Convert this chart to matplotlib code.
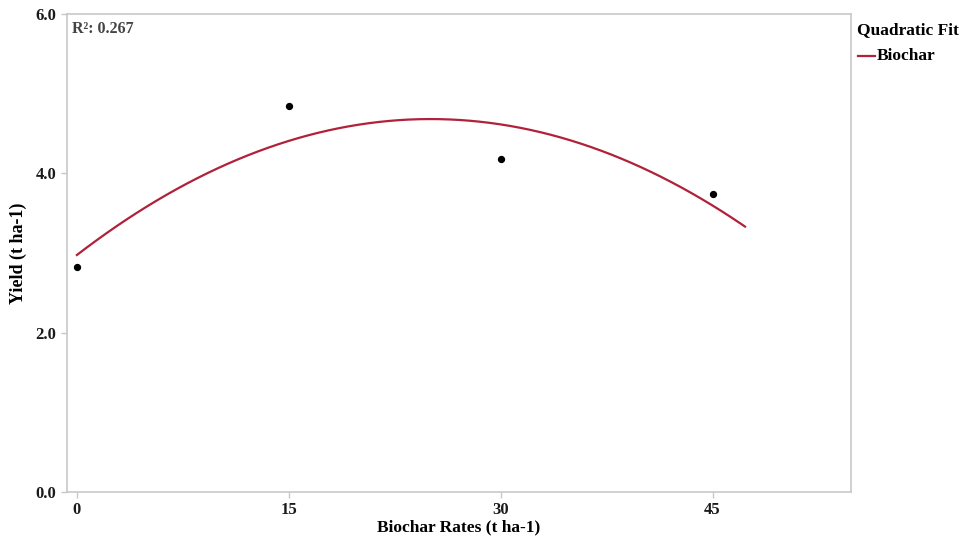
import matplotlib.pyplot as plt
import numpy as np

plt.rcParams['font.family'] = ['Liberation Serif', 'DejaVu Serif']

rates = [0, 15, 30, 45]
yields = [2.83, 4.84, 4.18, 3.74]
xticks = [0, 15, 30, 45]
yticks = [0.0, 2.0, 4.0, 6.0]
r2_label = 'R²: 0.267'

grey = '#c8c8c8'
red = '#b0213a'

fig = plt.figure(figsize=(9.67, 5.36), dpi=100)
ax = fig.add_axes([0.0693, 0.0821, 0.8107, 0.8919])

# quadratic fit over the rate range
coef = np.polyfit(rates, yields, 2)
xs = np.linspace(0, 47.3, 200)
ax.plot(xs, np.polyval(coef, xs), color=red, lw=1.6, zorder=2)
ax.scatter(rates, yields, s=18, color='black', zorder=3)

ax.set_xlim(-0.7, 54.8)
ax.set_ylim(0, 6)
ax.set_xticks(xticks)
ax.set_yticks(yticks)
ax.set_xticklabels([str(t) for t in xticks])
ax.set_yticklabels([f'{t:.1f}' for t in yticks])
for s in ax.spines.values():
    s.set_color(grey)
    s.set_linewidth(1.2)
ax.tick_params(colors=grey, labelcolor='#1a1a1a', length=4, width=1,
               labelsize=12)
ax.tick_params(axis='x', pad=3)
for lab in ax.get_xticklabels() + ax.get_yticklabels():
    lab.set_fontweight('bold')

ax.set_xlabel('Biochar Rates (t ha-1)', fontsize=12.5, fontweight='bold')
ax.xaxis.set_label_coords(0.5, -0.057)
ax.set_ylabel('Yield (t ha-1)', fontsize=13, fontweight='bold', labelpad=6)

ax.text(0.006, 0.985, r2_label, transform=ax.transAxes, ha='left', va='top',
        fontsize=11.5, fontweight='bold', color='#444444')

# legend box to the right of the plot
fig.text(0.886, 0.944, 'Quadratic Fit', fontsize=12.5, fontweight='bold',
         ha='left', va='center')
fig.add_artist(plt.Line2D([0.887, 0.905], [0.896, 0.896], color=red, lw=1.6))
fig.text(0.907, 0.896, 'Biochar', fontsize=12.5, fontweight='bold',
         ha='left', va='center')

fig.savefig('out.png', dpi=100)
